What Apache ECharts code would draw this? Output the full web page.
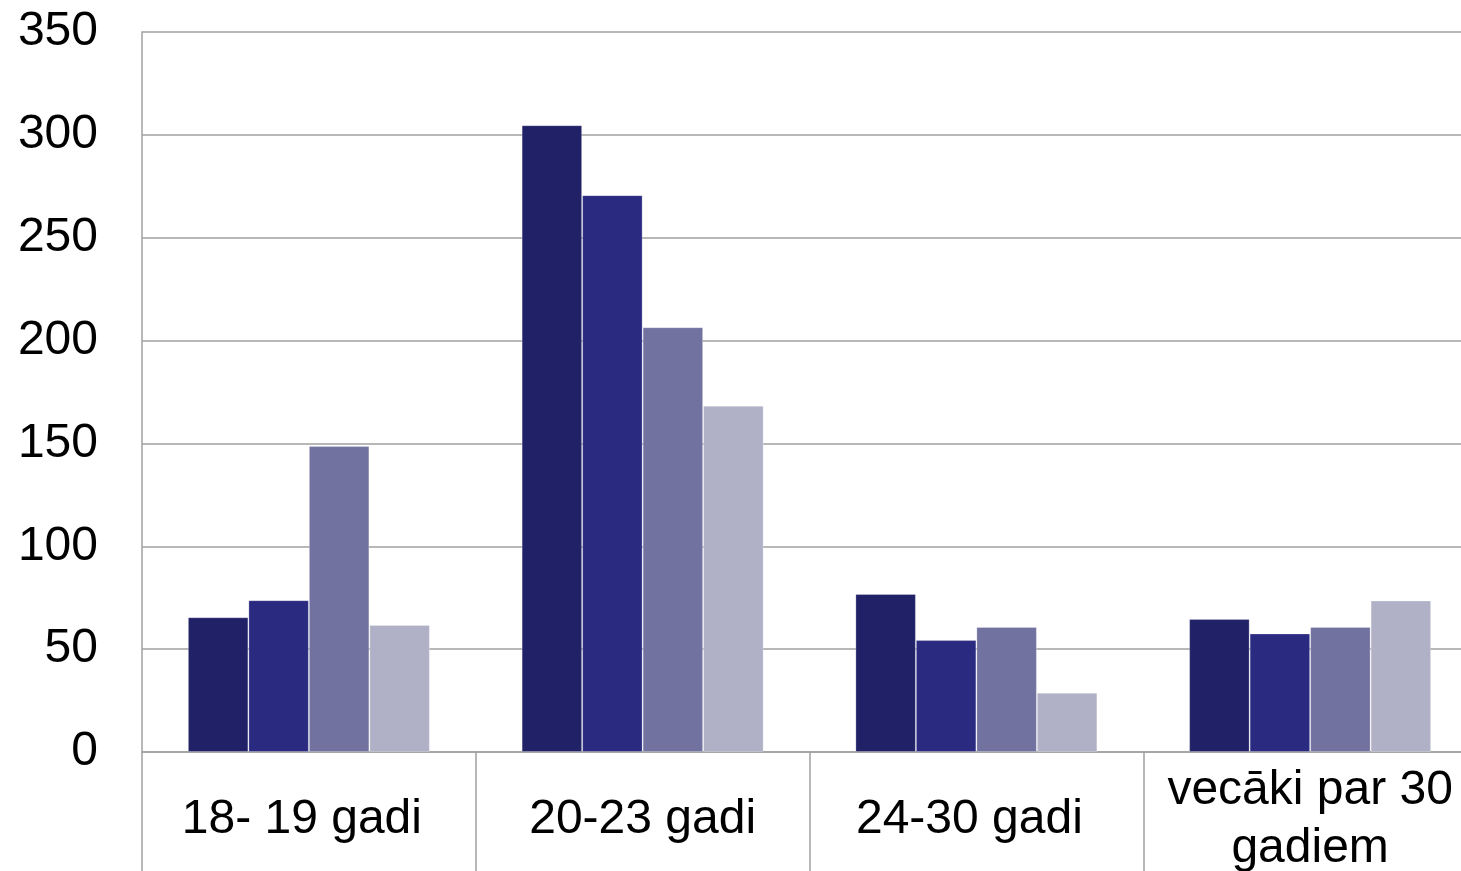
<!DOCTYPE html>
<html>
<head>
<meta charset="utf-8">
<script src="https://cdn.jsdelivr.net/npm/echarts@6/dist/echarts.min.js"></script>
<style>
html,body{margin:0;padding:0;background:#fff;}
#c{width:1461px;height:871px;}
</style>
</head>
<body>
<div id="c"></div>
<script>
const categories = ['18- 19 gadi', '20-23 gadi', '24-30 gadi', 'vecāki par 30\ngadiem'];
const seriesA = [65.5, 304.7, 76.8, 64.7];
const seriesB = [73.8, 270.7, 54.4, 57.6];
const seriesC = [148.7, 206.5, 60.8, 60.8];
const seriesD = [61.7, 168.3, 28.8, 73.6];
const yTicks = [0, 50, 100, 150, 200, 250, 300, 350];

const colors = ['#212168', '#292A80', '#7172A0', '#B0B0C6'];
const allSeries = [seriesA, seriesB, seriesC, seriesD];
const labelShift = {0: 14, 2: 14};
const labelFont = {fontFamily: 'Liberation Sans, Arial, sans-serif', fontSize: 48, color: '#000', lineHeight: 58, verticalAlign: 'middle'};

const chart = echarts.init(document.getElementById('c'), null, {renderer: 'canvas'});
chart.setOption({
  animation: false,
  backgroundColor: '#ffffff',
  grid: {left: 142, top: 32, width: 1335, bottom: 119, containLabel: false, outerBoundsMode: 'none'},
  xAxis: {
    type: 'category',
    data: categories.map((c, i) => labelShift[i]
      ? {value: c, textStyle: Object.assign({}, labelFont, {padding: [0, labelShift[i], 0, 0]})}
      : c),
    axisLine: {show: true, lineStyle: {color: '#a0a0a0', width: 1.5}},
    axisTick: {show: true, length: 119, alignWithLabel: false, lineStyle: {color: '#a0a0a0', width: 1.5}},
    axisLabel: Object.assign({interval: 0, margin: 68}, labelFont),
    splitLine: {show: false}
  },
  yAxis: {
    type: 'value', min: yTicks[0], max: yTicks[yTicks.length - 1], interval: 50,
    axisLine: {show: true, lineStyle: {color: '#a0a0a0', width: 1.5}},
    axisTick: {show: false},
    axisLabel: {margin: 44, padding: [4, 0, 0, 0], fontFamily: 'Liberation Sans, Arial, sans-serif', fontSize: 48, color: '#000'},
    splitLine: {show: true, lineStyle: {color: '#a0a0a0', width: 1.5}}
  },
  series: allSeries.map((d, i) => ({
    type: 'bar',
    data: d,
    barGap: '0%',
    barCategoryGap: '27.5%',
    itemStyle: {color: colors[i], borderColor: 'rgba(255,255,255,0.25)', borderWidth: 1}
  }))
});
</script>
</body>
</html>
